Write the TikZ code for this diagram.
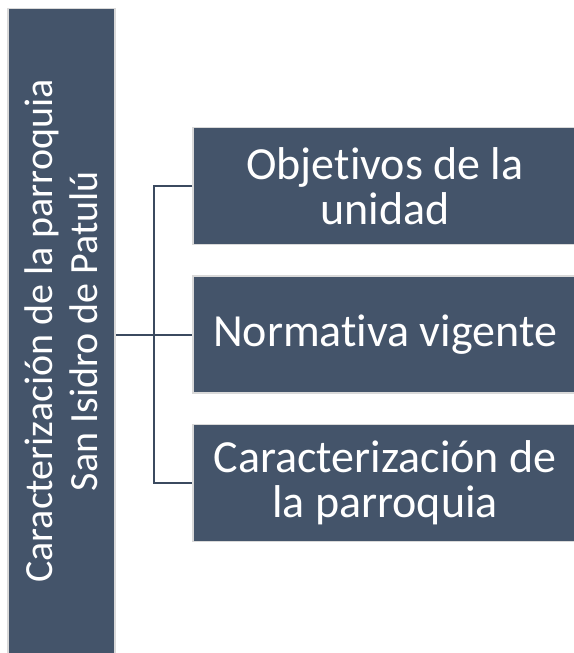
\documentclass[tikz,border=0pt]{standalone}
\usepackage{fontspec}
\setmainfont{Carlito}[Ligatures=NoCommon]
\usepackage{xcolor}
\usepackage{tikz}
\definecolor{slate}{HTML}{44546A}
\definecolor{rim}{HTML}{D9D9D9}
\definecolor{wirecol}{HTML}{3B4A5F}

\begin{document}
\begin{tikzpicture}[x=1pt,y=-1pt]
        \tikzstyle{every node}+=[inner sep=0pt]
        \tikzstyle{tile}=[draw=rim, line width=1.5pt, fill=slate, text=white, align=center, font=\fontsize{40}{45}\selectfont]
        \tikzstyle{leaf}=[tile, minimum width=384pt, minimum height=117pt, font=\fontsize{46}{45}\selectfont]
        \tikzstyle{wire}=[draw=wirecol, line width=2pt]
        \useasboundingbox (0,0) rectangle (573,653);
        \node[tile, rotate=90, minimum width=645pt, minimum height=107pt] (root) at (61.5,331) {Caracterización de la parroquia\\San Isidro de Patulú};
        \node[leaf] (goal) at (385,186) {Objetivos de la\\unidad};
        \node[leaf] (norm) at (385,334.5) {Normativa vigente};
        \node[leaf] (parish) at (385,483) {Caracterización de\\la parroquia};
        \coordinate (fork) at (154,334.5);
        \draw[wire] (root.south |- norm.west) -- (norm.west);
        \draw[wire] (goal.west) -| (fork) |- (parish.west);
\end{tikzpicture}
\end{document}
